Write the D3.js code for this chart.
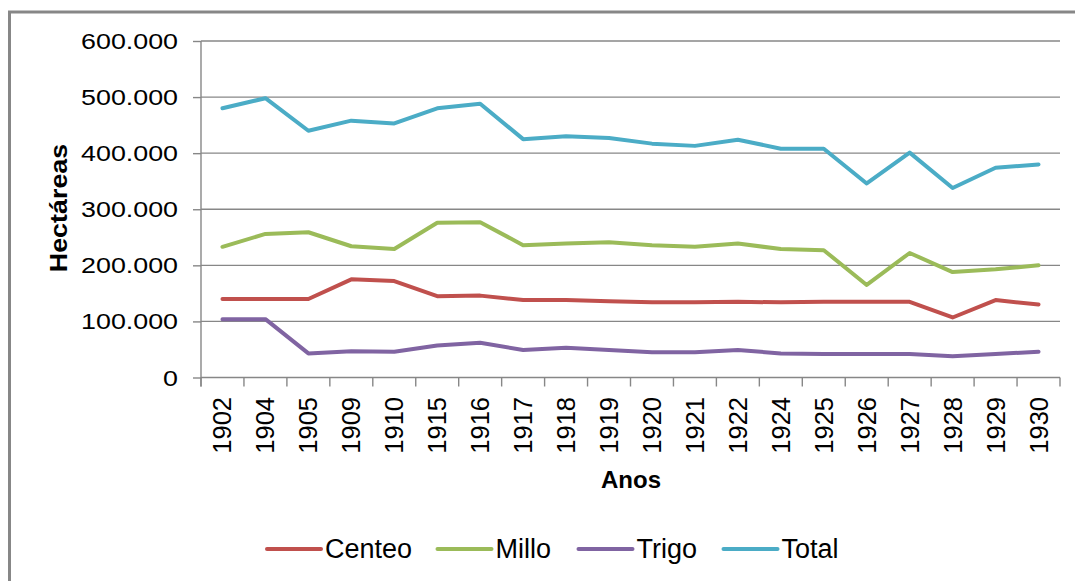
<!DOCTYPE html>
<html>
<head>
<meta charset="utf-8">
<script src="https://cdn.jsdelivr.net/npm/d3@7"></script>
<style>
  body { margin: 0; background: #fff; }
  svg { display: block; font-family: "Liberation Sans", Arial, sans-serif; }
</style>
</head>
<body>
<svg id="chart" width="1075" height="581"></svg>
<script>
const years = ["1902","1904","1905","1909","1910","1915","1916","1917","1918","1919",
               "1920","1921","1922","1924","1925","1926","1927","1928","1929","1930"];
const centeo = [140000,140000,140000,175000,172000,145000,146000,138000,138000,136000,
                134000,134000,135000,134000,135000,135000,135000,107000,138000,130000];
const millo  = [233000,256000,259000,234000,229000,276000,277000,236000,239000,241000,
                236000,233000,239000,229000,227000,165000,222000,188000,193000,200000];
const trigo  = [104000,104000,43000,47000,46000,57000,62000,49000,53000,49000,
                45000,45000,49000,43000,42000,42000,42000,38000,42000,46000];
const total  = [480000,498000,440000,458000,453000,480000,488000,425000,430000,427000,
                417000,413000,424000,408000,408000,346000,401000,338000,374000,380000];
const seriesNames = ["Centeo","Millo","Trigo","Total"];
const yTicks = [0,100000,200000,300000,400000,500000,600000];

const colors = { Centeo: "#C0504D", Millo: "#9BBB59", Trigo: "#8064A2", Total: "#4BACC6" };
const seriesData = { Centeo: centeo, Millo: millo, Trigo: trigo, Total: total };

const svg = d3.select("#chart");
const plotLeft = 201, plotRight = 1060, plotTop = 41, plotBottom = 377.5;

// outer chart frame (runs off the right and bottom like the original)
svg.append("rect")
    .attr("x", 9.5).attr("y", 12)
    .attr("width", 1080).attr("height", 580)
    .attr("fill", "none").attr("stroke", "#878787").attr("stroke-width", 3);

const x = d3.scaleBand().domain(years).range([plotLeft, plotRight]).padding(0);
const y = d3.scaleLinear().domain([0, 600000]).range([plotBottom, plotTop]);

const loc = d3.formatLocale({ decimal: ",", thousands: ".", grouping: [3], currency: ["", ""] });
const fmt = loc.format(",");

// gridlines
svg.append("g").selectAll("line")
    .data(yTicks.filter(d => d > 0))
    .enter().append("line")
    .attr("x1", plotLeft).attr("x2", plotRight)
    .attr("y1", d => y(d)).attr("y2", d => y(d))
    .attr("stroke", "#878787").attr("stroke-width", 1.4);

// y axis
const yAxis = svg.append("g")
    .attr("transform", "translate(" + plotLeft + ",0)")
    .call(d3.axisLeft(y).tickValues(yTicks).tickSize(8).tickFormat(""));
yAxis.select(".domain").attr("d", "M0," + plotTop + "V" + (plotBottom + 9)).attr("stroke", "#878787").attr("stroke-width", 1.4);
yAxis.selectAll(".tick line").attr("stroke", "#878787").attr("stroke-width", 1.4);

svg.append("g").selectAll("text")
    .data(yTicks)
    .enter().append("text")
    .attr("transform", d => "translate(178," + (y(d) + 8) + ") scale(1.22,1)")
    .attr("text-anchor", "end")
    .attr("font-size", "22px")
    .attr("fill", "#000")
    .text(d => fmt(d));

// x axis
const xAxis = svg.append("g")
    .attr("transform", "translate(0," + plotBottom + ")");
xAxis.append("line")
    .attr("x1", plotLeft).attr("x2", plotRight).attr("y1", 0).attr("y2", 0)
    .attr("stroke", "#878787").attr("stroke-width", 1.4);
const bounds = years.map(d => x(d)).concat([plotRight]);
xAxis.selectAll("line.tk")
    .data(bounds)
    .enter().append("line")
    .attr("class", "tk")
    .attr("x1", d => d).attr("x2", d => d)
    .attr("y1", 0).attr("y2", 9)
    .attr("stroke", "#878787").attr("stroke-width", 1.4);

svg.append("g").selectAll("text")
    .data(years)
    .enter().append("text")
    .attr("transform", d => "translate(" + (x(d) + x.bandwidth() / 2 + 9) + ",397) rotate(-90)")
    .attr("text-anchor", "end")
    .attr("font-size", "25.5px")
    .attr("fill", "#000")
    .text(d => d);

// axis titles
svg.append("text")
    .attr("x", 631).attr("y", 488)
    .attr("text-anchor", "middle")
    .attr("font-size", "24px")
    .attr("font-weight", "bold")
    .text("Anos");

svg.append("text")
    .attr("transform", "translate(67,208) rotate(-90) scale(1.12,1)")
    .attr("text-anchor", "middle")
    .attr("font-size", "24px")
    .attr("font-weight", "bold")
    .text("Hectáreas");

// lines
const line = d3.line()
    .x((d, i) => x(years[i]) + x.bandwidth() / 2)
    .y(d => y(d));

seriesNames.forEach(name => {
    svg.append("path")
        .datum(seriesData[name])
        .attr("fill", "none")
        .attr("stroke", colors[name])
        .attr("stroke-width", 4)
        .attr("stroke-linejoin", "round")
        .attr("stroke-linecap", "round")
        .attr("d", line);
});

// legend
const legendX = [267, 437.5, 578.5, 723.5];
const legend = svg.append("g");
seriesNames.forEach((name, i) => {
    legend.append("line")
        .attr("x1", legendX[i]).attr("x2", legendX[i] + 54)
        .attr("y1", 549).attr("y2", 549)
        .attr("stroke", colors[name]).attr("stroke-width", 4)
        .attr("stroke-linecap", "round");
    legend.append("text")
        .attr("x", legendX[i] + 58)
        .attr("y", 558)
        .attr("font-size", "27px")
        .attr("fill", "#000")
        .text(name);
});
</script>
</body>
</html>
